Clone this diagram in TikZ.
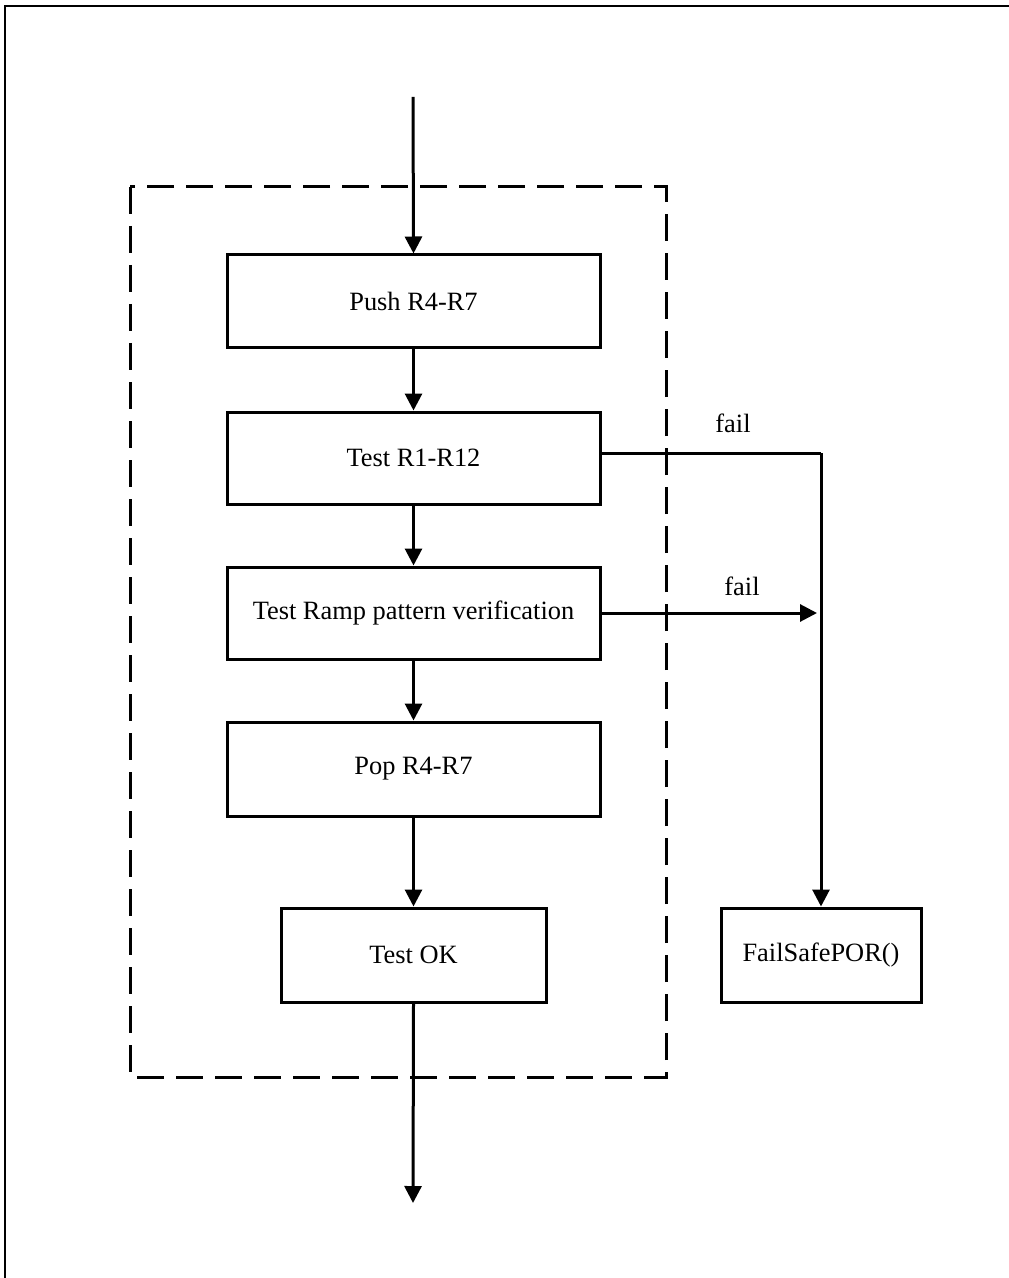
\documentclass[tikz,border=0pt]{standalone}
\usepackage{fontspec}
\setmainfont{Liberation Serif}
\usetikzlibrary{arrows.meta,calc}

\tikzset{
  stepbox/.style={draw, line width=1.5pt, fill=white, inner sep=0pt,
    font=\fontsize{13.2}{15}\selectfont},
  flow/.style={line width=1.5pt, -{Triangle[width=8.5pt,length=8.5pt]}},
  wire/.style={line width=1.5pt},
  groupbox/.style={line width=1.5pt, dash pattern=on 13.5pt off 6pt},
  lbl/.style={font=\fontsize{13.2}{15}\selectfont, inner sep=0pt, anchor=base}
}

\begin{document}
\begin{tikzpicture}[x=0.5pt, y=-0.5pt]
  \useasboundingbox (0,0) rectangle (1008,1278);
  % page frame (top and left edges)
  \draw[line width=1pt] (5,1290) -- (5,6) -- (1020,6);

  % dashed group around the test sequence
  \draw[groupbox] (130,187) rectangle (666,1077);

  % steps
  \node[stepbox, minimum width=186.5pt, minimum height=46.5pt] (push) at (413.5,301.5) {Push R4-R7};
  \node[stepbox, minimum width=186.5pt, minimum height=46pt] (r1) at (413.5,458) {Test R1-R12};
  \node[stepbox, minimum width=186.5pt, minimum height=46pt] (ramp) at (413.5,613) {Test Ramp pattern verification};
  \node[stepbox, minimum width=186.5pt, minimum height=47pt] (pop) at (413.5,769) {Pop R4-R7};
  \node[stepbox, minimum width=132.5pt, minimum height=47pt] (ok) at (413.5,955) {Test OK};
  \node[stepbox, minimum width=100pt, minimum height=47pt] (fs) at (821,955) {FailSafePOR()};

  % entry and exit
  \coordinate (in) at (413,97);
  \coordinate (out) at (413,1203);
  \draw[flow] (in) -- (push.north);
  \draw[flow] (push) -- (r1);
  \draw[flow] (r1) -- (ramp);
  \draw[flow] (ramp) -- (pop);
  \draw[flow] (pop.south) -- (ok.north);
  \draw[flow] (ok.south) -- (out);

  % failure paths
  \coordinate (r1out) at ($(r1.east)+(0,-5)$);
  \coordinate (turn) at (821,453);
  \coordinate (merge) at (817,613);
  \draw[wire] (r1out) -- (turn);
  \draw[flow] (turn) -- (fs.north);
  \draw[flow] (ramp.east) -- (merge);

  \node[lbl] (fail1) at (733,432) {fail};
  \node[lbl] (fail2) at (742,595) {fail};
\end{tikzpicture}
\end{document}
